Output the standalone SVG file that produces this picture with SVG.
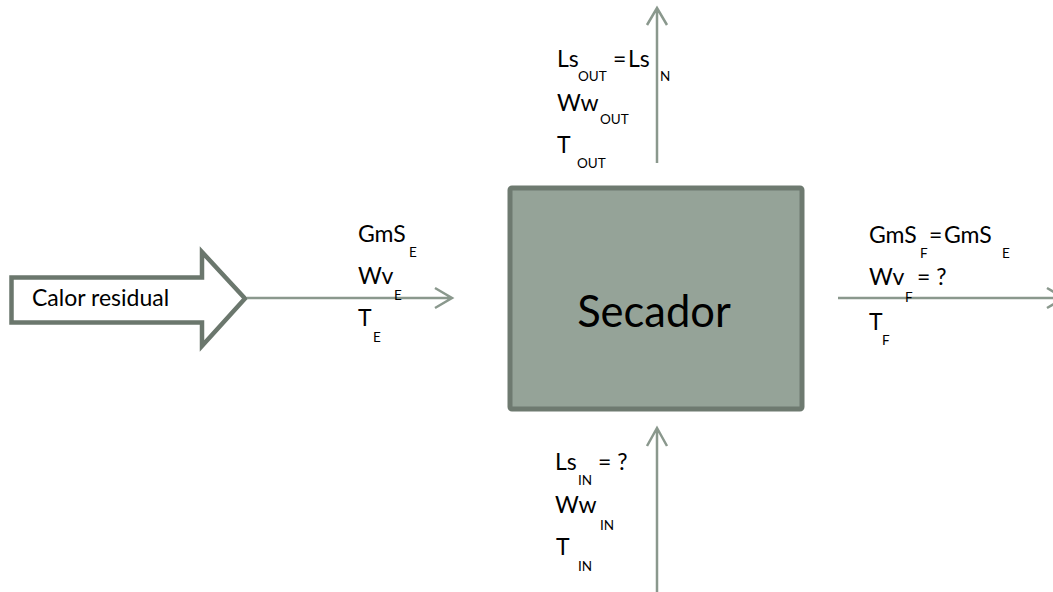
<svg xmlns="http://www.w3.org/2000/svg" width="1053" height="592" viewBox="0 0 1053 592">
<style>
.lbl{font-family:Lato,"Open Sans","Liberation Sans",sans-serif;font-size:23px;fill:#000}
.sub{font-family:Lato,"Open Sans","Liberation Sans",sans-serif;font-size:13.5px;fill:#000}
.flow{stroke:#8a988d;stroke-width:2.5;fill:none}
</style>
<rect width="1053" height="592" fill="#ffffff"/>
<g id="calor">
<path d="M11.5,277.5 H202 V252 L245,298.5 L202,346 V322.5 H11.5 Z" fill="#ffffff" stroke="#6b776d" stroke-width="4.5" stroke-linejoin="miter"/>
<text class="lbl" x="32" y="306" font-size="23.5">Calor residual</text>
</g>
<g id="secador">
<rect x="510" y="188" width="292" height="221" rx="2" fill="#95a398" stroke="#6e7a70" stroke-width="5"/>
<text x="654" y="327" text-anchor="middle" font-family="Lato, Open Sans, Liberation Sans, sans-serif" font-size="43.5" fill="#000">Secador</text>
</g>
<g id="connectors">
<path class="flow" d="M247,298 H452 M435,288 L452,298 L435,308"/>
<path class="flow" d="M838,298 H1064 M1047,288 L1064,298 L1047,308"/>
<path class="flow" d="M657,163 V8 M647,25 L657,8 L667,25"/>
<path class="flow" d="M657,592 V428 M647,446 L657,428 L667,446"/>
</g>
<g id="labels-left">
<text class="lbl" x="358" y="242">GmS</text><text class="sub" x="409" y="257">E</text>
<text class="lbl" x="358" y="284">Wv</text><text class="sub" x="394" y="300">E</text>
<text class="lbl" x="358" y="326">T</text><text class="sub" x="373" y="342">E</text>
</g>
<g id="labels-top">
<text class="lbl" x="557" y="67">Ls</text><text class="sub" x="578" y="81">OUT</text>
<text class="lbl" x="613" y="67">=</text><text class="lbl" x="628" y="67">Ls</text><text class="sub" x="660" y="81">N</text>
<text class="lbl" x="557" y="111">Ww</text><text class="sub" x="600" y="124">OUT</text>
<text class="lbl" x="557" y="153">T</text><text class="sub" x="577" y="168">OUT</text>
</g>
<g id="labels-right">
<text class="lbl" x="869" y="243">GmS</text><text class="sub" x="920" y="258">F</text>
<text class="lbl" x="929" y="243">=</text><text class="lbl" x="944" y="243">GmS</text><text class="sub" x="1002" y="258">E</text>
<text class="lbl" x="869" y="285">Wv</text><text class="sub" x="905" y="302">F</text>
<text class="lbl" x="917" y="285">= ?</text>
<text class="lbl" x="869" y="330">T</text><text class="sub" x="882" y="345">F</text>
</g>
<g id="labels-bottom">
<text class="lbl" x="555" y="470">Ls</text><text class="sub" x="578" y="485">IN</text>
<text class="lbl" x="598" y="470">= ?</text>
<text class="lbl" x="555" y="513">Ww</text><text class="sub" x="600" y="530">IN</text>
<text class="lbl" x="556" y="555">T</text><text class="sub" x="578" y="571">IN</text>
</g>
</svg>
